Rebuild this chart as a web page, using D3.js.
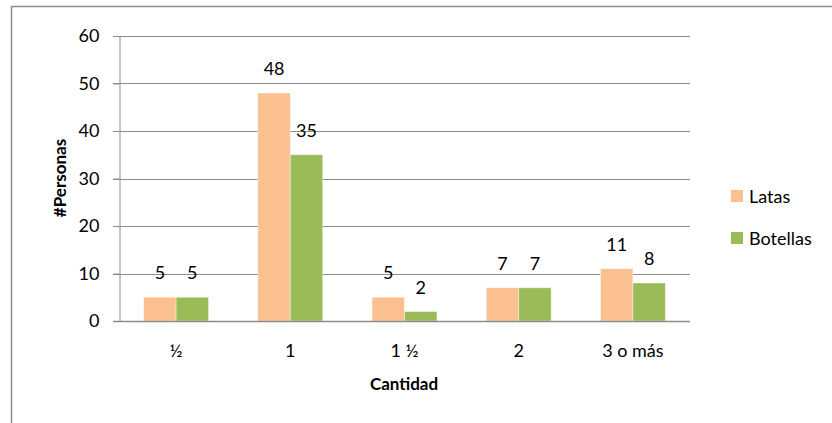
<!DOCTYPE html>
<html>
<head>
<meta charset="utf-8">
<script src="https://cdn.jsdelivr.net/npm/d3@7"></script>
<style>
  html, body { margin: 0; padding: 0; background: #fff; }
  svg text { font-family: Lato, "Open Sans", sans-serif; fill: #000; }
</style>
</head>
<body>
<svg id="chart" width="832" height="423"></svg>
<script>
// Cantidad de latas / botellas por persona
const categories = ["½", "1", "1 ½", "2", "3 o más"];
const latas = [5, 48, 5, 7, 11];
const botellas = [5, 35, 2, 7, 8];
const seriesNames = ["Latas", "Botellas"];
const seriesColors = ["#FAC090", "#9BBB59"];
const yTicks = [0, 10, 20, 30, 40, 50, 60];

const svg = d3.select("#chart");
const plot = { left: 119, right: 690, top: 36, bottom: 321 };

// outer chart frame (left and top edges visible)
svg.append("path")
  .attr("d", "M11.5,423 L11.5,6.5 L832,6.5")
  .attr("fill", "none").attr("stroke", "#8c8c8c").attr("stroke-width", 1.5);

const y = d3.scaleLinear().domain([0, 60]).range([plot.bottom, plot.top]);
const x0 = d3.scaleBand().domain(categories).range([plot.left, plot.right])
  .paddingInner(0.432).paddingOuter(0.216);
const x1 = d3.scaleBand().domain(seriesNames).range([0, x0.bandwidth()]);

// gridlines
svg.append("g").selectAll("line").data(yTicks.filter(d => d > 0)).join("line")
  .attr("x1", plot.left - 6).attr("x2", plot.right)
  .attr("y1", d => Math.round(y(d)) + 0.5).attr("y2", d => Math.round(y(d)) + 0.5)
  .attr("stroke", "#8c8c8c").attr("stroke-width", 1);

// y axis
const yAxis = svg.append("g").attr("transform", `translate(${plot.left + 0.5},0)`)
  .call(d3.axisLeft(y).tickValues(yTicks).tickSize(6).tickPadding(14));
yAxis.select(".domain").attr("stroke", "#8c8c8c");
yAxis.selectAll(".tick line").attr("stroke", "#8c8c8c");
yAxis.selectAll(".tick text").style("font-size", "18px")
  .style("font-family", "Lato, sans-serif");

// bars
const data = categories.map((c, i) => ({ cat: c, vals: [latas[i], botellas[i]] }));
const groups = svg.append("g").selectAll("g").data(data).join("g")
  .attr("transform", d => `translate(${x0(d.cat)},0)`);

groups.selectAll("rect").data(d => d.vals.map((v, j) => ({ v, j }))).join("rect")
  .attr("x", d => x1(seriesNames[d.j]))
  .attr("width", x1.bandwidth())
  .attr("y", d => y(d.v))
  .attr("height", d => y(0) - y(d.v))
  .attr("fill", d => seriesColors[d.j])
  .attr("stroke", "#ffffff").attr("stroke-opacity", 0.5).attr("stroke-width", 0.8);

// value labels
groups.selectAll("text").data(d => d.vals.map((v, j) => ({ v, j }))).join("text")
  .attr("x", d => x1(seriesNames[d.j]) + x1.bandwidth() / 2)
  .attr("y", d => y(d.v) - 18)
  .attr("text-anchor", "middle")
  .style("font-size", "18px")
  .text(d => d.v);

// x axis baseline
svg.append("line")
  .attr("x1", plot.left - 6).attr("x2", plot.right)
  .attr("y1", plot.bottom + 0.5).attr("y2", plot.bottom + 0.5)
  .attr("stroke", "#8c8c8c").attr("stroke-width", 1.5);

// category labels
svg.append("g").selectAll("text").data(categories).join("text")
  .attr("x", d => x0(d) + x0.bandwidth() / 2)
  .attr("y", 357)
  .attr("text-anchor", "middle")
  .style("font-size", "18px")
  .text(d => d);

// axis titles
svg.append("text").attr("x", 404).attr("y", 390).attr("text-anchor", "middle")
  .style("font-size", "17px").style("font-weight", "bold").text("Cantidad");
svg.append("text")
  .attr("transform", "translate(66,178) rotate(-90)")
  .attr("text-anchor", "middle")
  .style("font-size", "17px").style("font-weight", "bold").text("#Personas");

// legend
const legend = svg.append("g").selectAll("g").data(seriesNames).join("g")
  .attr("transform", (d, i) => `translate(731,${190 + i * 42})`);
legend.append("rect").attr("width", 12).attr("height", 12)
  .attr("fill", (d, i) => seriesColors[i]);
legend.append("text").attr("x", 18).attr("y", 12.5)
  .style("font-size", "18px").text(d => d);
</script>
</body>
</html>
